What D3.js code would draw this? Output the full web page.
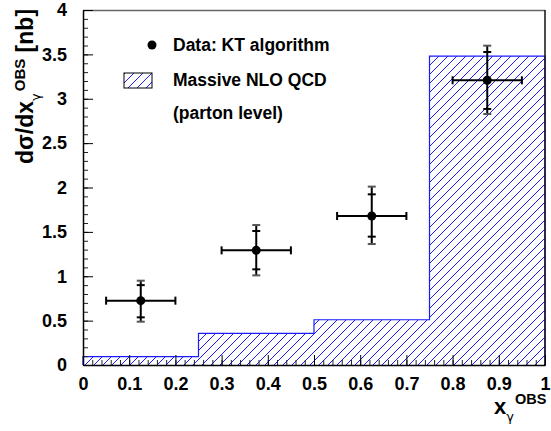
<!DOCTYPE html>
<html>
<head>
<meta charset="utf-8">
<script src="https://cdn.jsdelivr.net/npm/d3@7"></script>
<style>
  html, body { margin: 0; padding: 0; background: #fff; }
  svg { display: block; font-family: "Liberation Sans", Arial, Helvetica, sans-serif; font-weight: bold; }
  .greek { font-family: "DejaVu Sans", sans-serif; font-weight: normal; }
</style>
</head>
<body>
<svg id="chart" width="551" height="431"></svg>
<script>
// Bin edges and NLO QCD prediction (nb), one value per bin
const binEdges = [0, 0.25, 0.5, 0.75, 1.0];
const nloValues = [0.095, 0.357, 0.51, 3.48];

// KT-algorithm data: bin centre, half width, cross section, stat and total errors
const dataX = [0.125, 0.375, 0.625, 0.875];
const dataXErr = [0.075, 0.075, 0.075, 0.075];
const dataY = [0.725, 1.292, 1.679, 3.208];
const statUp = [0.175, 0.218, 0.244, 0.319];
const statDown = [0.188, 0.214, 0.233, 0.323];
const totUp = [0.225, 0.285, 0.331, 0.390];
const totDown = [0.237, 0.282, 0.316, 0.380];

// Axis tick labels
const xTickValues = [0, 0.1, 0.2, 0.3, 0.4, 0.5, 0.6, 0.7, 0.8, 0.9, 1];
const yTickValues = [0, 0.5, 1, 1.5, 2, 2.5, 3, 3.5, 4];

const svg = d3.select("#chart");
const plotL = 83, plotR = 545, plotT = 10, plotB = 365;
const x = d3.scaleLinear().domain([0, 1]).range([plotL, plotR]);
const y = d3.scaleLinear().domain([0, 4]).range([plotB, plotT]);

// Diagonal hatch pattern
const defs = svg.append("defs");
const pat = defs.append("pattern")
  .attr("id", "hatch")
  .attr("patternUnits", "userSpaceOnUse")
  .attr("width", 9).attr("height", 9);
pat.append("path")
  .attr("d", "M-1,10 L10,-1 M-1,1 L1,-1 M8,10 L10,8")
  .attr("stroke", "#1a1aff").attr("stroke-width", 1);

// NLO histogram as a step area
const steps = [];
nloValues.forEach((v, i) => {
  steps.push([binEdges[i], v]);
  steps.push([binEdges[i + 1], v]);
});
const area = d3.area().x(d => x(d[0])).y0(y(0)).y1(d => y(d[1]));
const line = d3.line().x(d => x(d[0])).y(d => y(d[1]));
svg.append("path").datum(steps).attr("d", area).attr("fill", "url(#hatch)");
svg.append("path")
  .datum([[0, 0]].concat(steps).concat([[1, 0]]))
  .attr("d", line).attr("fill", "none")
  .attr("stroke", "#1a1aff").attr("stroke-width", 1.2);

// Frame
svg.append("line").attr("x1", plotL).attr("x2", plotR).attr("y1", plotT + 0.5).attr("y2", plotT + 0.5)
  .attr("stroke", "#666").attr("stroke-width", 1.5);
svg.append("line").attr("x1", plotR).attr("x2", plotR).attr("y1", plotT).attr("y2", plotB)
  .attr("stroke", "#111").attr("stroke-width", 1.5);

// Axes with inward ticks
const xMinor = d3.range(0, 1.0001, 0.02);
const yMinor = d3.range(0, 4.0001, 0.1);
const gx = svg.append("g").attr("transform", `translate(0,${plotB})`);
gx.call(d3.axisBottom(x).tickValues(xMinor).tickSizeInner(-5).tickSizeOuter(0).tickFormat(""));
gx.call(g => g.selectAll(".tick line").attr("stroke", "#222"));
const gxMaj = svg.append("g").attr("transform", `translate(0,${plotB})`);
gxMaj.call(d3.axisBottom(x).tickValues(xTickValues).tickSizeInner(-10).tickSizeOuter(0).tickPadding(12)
  .tickFormat(d3.format("~g")));
gxMaj.select(".domain").attr("stroke", "#000").attr("stroke-width", 1.5);
gxMaj.selectAll(".tick line").attr("stroke", "#000");
gxMaj.selectAll(".tick text").attr("font-size", 18).attr("font-weight", "bold")
  .attr("font-family", "Liberation Sans, Arial, sans-serif").attr("fill", "#000");

const gy = svg.append("g").attr("transform", `translate(${plotL},0)`);
gy.call(d3.axisLeft(y).tickValues(yMinor).tickSizeInner(-5).tickSizeOuter(0).tickFormat(""));
gy.call(g => g.selectAll(".tick line").attr("stroke", "#222"));
const gyMaj = svg.append("g").attr("transform", `translate(${plotL},0)`);
gyMaj.call(d3.axisLeft(y).tickValues(yTickValues).tickSizeInner(-10).tickSizeOuter(0).tickPadding(16)
  .tickFormat(d3.format("~g")));
gyMaj.select(".domain").attr("stroke", "#000").attr("stroke-width", 1.5);
gyMaj.selectAll(".tick line").attr("stroke", "#000");
gyMaj.selectAll(".tick text").attr("font-size", 18).attr("font-weight", "bold")
  .attr("font-family", "Liberation Sans, Arial, sans-serif").attr("fill", "#000");

// Data points with stat (inner) and total (outer) error bars
const pts = svg.append("g").attr("stroke", "#000").attr("stroke-width", 2);
dataX.forEach((cx, i) => {
  const px = x(cx), py = y(dataY[i]);
  const xl = x(cx - dataXErr[i]), xr = x(cx + dataXErr[i]);
  pts.append("line").attr("x1", xl).attr("x2", xr).attr("y1", py).attr("y2", py);
  pts.append("line").attr("x1", xl).attr("x2", xl).attr("y1", py - 4).attr("y2", py + 4);
  pts.append("line").attr("x1", xr).attr("x2", xr).attr("y1", py - 4).attr("y2", py + 4);
  const yTop = y(dataY[i] + totUp[i]), yBot = y(dataY[i] - totDown[i]);
  pts.append("line").attr("x1", px).attr("x2", px).attr("y1", yTop).attr("y2", yBot);
  [dataY[i] + statUp[i], dataY[i] - statDown[i]].forEach(v => {
    pts.append("line").attr("x1", px - 4).attr("x2", px + 4).attr("y1", y(v)).attr("y2", y(v));
  });
  [dataY[i] + totUp[i], dataY[i] - totDown[i]].forEach(v => {
    pts.append("line").attr("x1", px - 4).attr("x2", px + 4).attr("y1", y(v)).attr("y2", y(v))
      .attr("stroke", "#555");
  });
  svg.append("circle").attr("cx", px).attr("cy", py).attr("r", 4.5).attr("fill", "#000");
});

// Legend
const leg = svg.append("g").attr("font-size", 17.5).attr("fill", "#000");
leg.append("circle").attr("cx", 152).attr("cy", 45).attr("r", 4.5).attr("fill", "#000");
leg.append("text").attr("x", 173).attr("y", 51).text("Data: KT algorithm");
leg.append("rect").attr("x", 124).attr("y", 73).attr("width", 28).attr("height", 15)
  .attr("fill", "url(#hatch)").attr("stroke", "#000").attr("stroke-width", 1);
leg.append("text").attr("x", 173).attr("y", 86).text("Massive NLO QCD");
leg.append("text").attr("x", 173).attr("y", 119).text("(parton level)");

// Y axis title
const yt = svg.append("text")
  .attr("transform", "translate(33,164) rotate(-90)")
  .attr("font-size", 23).attr("fill", "#000");
yt.append("tspan").text("dσ/dx");
yt.append("tspan").attr("class", "greek").attr("font-size", 13).attr("dy", 7).text("γ");
yt.append("tspan").attr("font-size", 15).attr("dy", -15).attr("dx", 2).text("OBS");
yt.append("tspan").attr("dy", 8).text(" [nb]");

// X axis title
const xt = svg.append("text").attr("x", 494).attr("y", 414).attr("font-size", 22).attr("fill", "#000");
xt.append("tspan").text("x");
xt.append("tspan").attr("class", "greek").attr("font-size", 13).attr("dy", 7).text("γ");
xt.append("tspan").attr("font-size", 14.5).attr("dy", -17).attr("dx", 1).text("OBS");
</script>
</body>
</html>
